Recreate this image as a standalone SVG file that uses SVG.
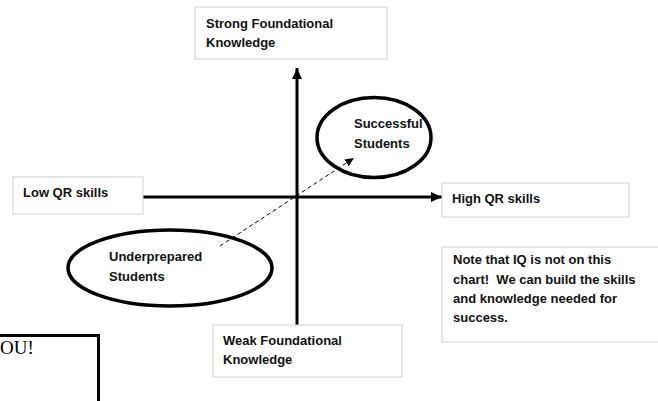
<svg xmlns="http://www.w3.org/2000/svg" width="658" height="401" viewBox="0 0 658 401">
<defs>
<style>
.box{fill:#fff;stroke:#d0d0d0;stroke-width:1}
.t{font-family:"Liberation Sans",Arial,sans-serif;font-weight:bold;font-size:13px;fill:#111;white-space:pre}
.axis{stroke:#000;stroke-width:3;fill:none}
.ell{fill:#fff;stroke:#000;stroke-width:3.5}
</style>
<marker id="ah" markerUnits="userSpaceOnUse" markerWidth="12" markerHeight="10" refX="11" refY="5" orient="auto">
<path d="M0,0 L11,5 L0,10 Z" fill="#000"/>
</marker>
<marker id="ahs" markerUnits="userSpaceOnUse" markerWidth="10" markerHeight="8" refX="9" refY="4" orient="auto">
<path d="M0,0 L9,4 L0,8 Z" fill="#000"/>
</marker>
</defs>
<rect width="658" height="401" fill="#fff"/>
<g id="connectors">
<line class="axis" x1="143" y1="197" x2="442" y2="197" marker-end="url(#ah)"/>
<line class="axis" x1="297" y1="325" x2="297" y2="68" marker-end="url(#ah)"/>
</g>
<g id="strong">
<rect class="box" x="195" y="7" width="192" height="52"/>
<text class="t" x="206" y="28">Strong Foundational</text>
<text class="t" x="206" y="47">Knowledge</text>
</g>
<g id="low">
<rect class="box" x="13" y="177" width="130" height="37"/>
<text class="t" x="23" y="197">Low QR skills</text>
</g>
<g id="high">
<rect class="box" x="442" y="183" width="187" height="34"/>
<text class="t" x="452" y="203">High QR skills</text>
</g>
<g id="note">
<rect class="box" x="442" y="247" width="220" height="95"/>
<text class="t" x="453" y="264">Note that IQ is not on this</text>
<text class="t" x="453" y="284" xml:space="preserve">chart!  We can build the skills</text>
<text class="t" x="453" y="303">and knowledge needed for</text>
<text class="t" x="453" y="322">success.</text>
</g>
<g id="weak">
<rect class="box" x="213" y="325" width="189" height="52"/>
<text class="t" x="223" y="345">Weak Foundational</text>
<text class="t" x="223" y="364">Knowledge</text>
</g>
<g id="successful">
<ellipse class="ell" cx="374" cy="137.5" rx="57" ry="40"/>
<text class="t" x="354" y="128">Successful</text>
<text class="t" x="354" y="148">Students</text>
</g>
<g id="underprepared">
<ellipse class="ell" cx="170" cy="268" rx="102" ry="38"/>
<text class="t" x="109" y="261">Underprepared</text>
<text class="t" x="109" y="281">Students</text>
</g>
<g id="path">
<line x1="220" y1="246" x2="354" y2="158" stroke="#000" stroke-width="1" stroke-dasharray="4,3" marker-end="url(#ahs)"/>
</g>
<g id="thanks">
<rect x="-10" y="335.5" width="108.5" height="80" fill="#fff" stroke="#000" stroke-width="3"/>
<text x="0" y="354" font-family="'Liberation Serif','Times New Roman',serif" font-size="19" fill="#000">OU!</text>
</g>
</svg>
